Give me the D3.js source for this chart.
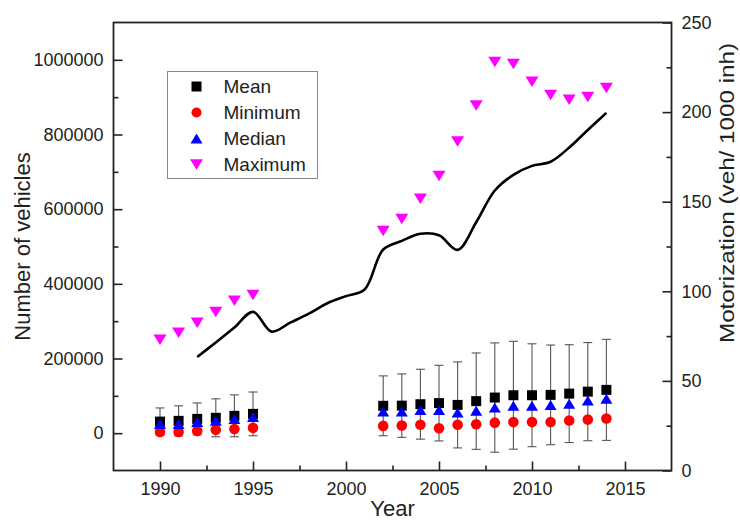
<!DOCTYPE html>
<meta charset="utf-8">
<style>
body { margin: 0; background: #fff; }
svg text { font-family: "Liberation Sans", Arial, sans-serif; fill: #222; }
.axis .domain { display: none; }
.axis line { stroke: #222; stroke-width: 1.6px; }
.axis text { font-size: 18px; }
</style>
<svg width="740" height="520" id="chart"></svg>
<script src="https://d3js.org/d3.v7.min.js"></script>
<script>
// motorization statistics (veh / 1000 inh), right axis
var statYears  = [1990, 1991, 1992, 1993, 1994, 1995,
                  2002, 2003, 2004, 2005, 2006, 2007, 2008, 2009, 2010, 2011, 2012, 2013, 2014];
var meanVals   = [27.3, 27.7, 28.8, 29.4, 30.5, 31.6,
                  36.1, 36.2, 37.0, 37.6, 36.6, 38.7, 40.7, 42.0, 42.0, 42.2, 42.9, 44.0, 45.0];
var sdVals     = [7.6, 8.4, 8.9, 10.6, 11.7, 12.2,
                  16.7, 17.7, 19.5, 21.1, 24.0, 26.9, 30.5, 30.1, 28.7, 27.8, 27.3, 27.4, 28.2];
var minVals    = [21.5, 21.5, 22.1, 22.7, 23.2, 23.8,
                  24.9, 25.1, 25.5, 23.6, 25.5, 25.8, 26.7, 27.0, 27.0, 27.1, 27.9, 28.4, 29.0];
var medianVals = [26.0, 26.0, 27.1, 27.7, 28.8, 29.9,
                  32.9, 32.9, 33.7, 33.8, 32.3, 33.4, 35.1, 36.1, 36.2, 36.6, 37.3, 39.0, 40.0];
var maxVals    = [72.9, 76.8, 82.4, 88.5, 94.7, 98.0,
                  133.7, 140.3, 151.6, 164.4, 183.6, 203.7, 227.9, 226.9, 216.9, 209.6, 206.9, 208.4, 213.4];

// number of vehicles, left axis
var lineYears = [1992, 1993, 1994, 1995, 1996, 1997, 1998, 1999, 2000, 2001, 2002, 2003,
                 2004, 2005, 2006, 2007, 2008, 2009, 2010, 2011, 2012, 2013, 2014];
var vehicles  = [204000, 243000, 283000, 325000, 272000, 296000, 320000, 348000, 367000, 385000,
                 492000, 515000, 534000, 530000, 491000, 565000, 650000, 692000, 716000, 727000,
                 765000, 812000, 858000];

var xTicks = [1990, 1995, 2000, 2005, 2010, 2015];
var leftTicks = [0, 200000, 400000, 600000, 800000, 1000000];
var rightTicks = [0, 50, 100, 150, 200, 250];
var legendLabels = ["Mean", "Minimum", "Median", "Maximum"];

var svg = d3.select("#chart"),
    margin = {top: 22.5, right: 68.5, bottom: 49.5, left: 113.5},
    width = +svg.attr("width") - margin.left - margin.right,
    height = +svg.attr("height") - margin.top - margin.bottom,
    g = svg.append("g").attr("transform", "translate(" + margin.left + "," + margin.top + ")");

var x = d3.scaleLinear().domain([1987.5, 2017.5]).range([0, width]);
var yL = d3.scaleLinear().domain([-100000, 1100000]).range([height, 0]);
var yR = d3.scaleLinear().domain([0, 250]).range([height, 0]);

// axes: major + minor ticks pointing inward
g.append("g").attr("class", "axis")
    .attr("transform", "translate(0," + height + ")")
    .call(d3.axisBottom(x).tickValues(xTicks).tickFormat(d3.format("d")).tickSize(-9).tickPadding(12));
g.append("g").attr("class", "axis")
    .attr("transform", "translate(0," + height + ")")
    .call(d3.axisBottom(x).tickValues([1992.5, 1997.5, 2002.5, 2007.5, 2012.5]).tickFormat("").tickSize(-5));

g.append("g").attr("class", "axis")
    .call(d3.axisLeft(yL).tickValues(leftTicks).tickFormat(d3.format("d")).tickSize(-9).tickPadding(10));
g.append("g").attr("class", "axis")
    .call(d3.axisLeft(yL).tickValues([100000, 300000, 500000, 700000, 900000]).tickFormat("").tickSize(-5));

g.append("g").attr("class", "axis")
    .attr("transform", "translate(" + width + ",0)")
    .call(d3.axisRight(yR).tickValues(rightTicks).tickSize(-9).tickPadding(10));
g.append("g").attr("class", "axis")
    .attr("transform", "translate(" + width + ",0)")
    .call(d3.axisRight(yR).tickValues([25, 75, 125, 175, 225]).tickFormat("").tickSize(-5));

g.append("rect")
    .attr("width", width).attr("height", height)
    .attr("fill", "none").attr("stroke", "#222").attr("stroke-width", 1.8);

// vehicles line
var lineData = lineYears.map(function(d, i) { return {year: d, v: vehicles[i]}; });
g.append("path")
    .datum(lineData)
    .attr("fill", "none")
    .attr("stroke", "#000")
    .attr("stroke-width", 2.6)
    .attr("d", d3.line()
        .x(function(d) { return x(d.year); })
        .y(function(d) { return yL(d.v); })
        .curve(d3.curveCatmullRom.alpha(0.5)));

var stats = statYears.map(function(d, i) {
  return {year: d, mean: meanVals[i], sd: sdVals[i], min: minVals[i], med: medianVals[i], max: maxVals[i]};
});

// error bars
var eb = g.append("g").attr("stroke", "#555").attr("stroke-width", 1.1);
stats.forEach(function(d) {
  var cx = x(d.year), y1 = yR(d.mean + d.sd), y2 = yR(d.mean - d.sd);
  eb.append("line").attr("x1", cx).attr("x2", cx).attr("y1", y1).attr("y2", y2);
  eb.append("line").attr("x1", cx - 4.5).attr("x2", cx + 4.5).attr("y1", y1).attr("y2", y1);
  eb.append("line").attr("x1", cx - 4.5).attr("x2", cx + 4.5).attr("y1", y2).attr("y2", y2);
});

function square(s) { return "M" + (-s/2) + "," + (-s/2) + "h" + s + "v" + s + "h" + (-s) + "Z"; }
function triUp(w, h) { return "M0," + (-h/2) + "L" + (w/2) + "," + (h/2) + "L" + (-w/2) + "," + (h/2) + "Z"; }
function triDown(w, h) { return "M0," + (h/2) + "L" + (w/2) + "," + (-h/2) + "L" + (-w/2) + "," + (-h/2) + "Z"; }

var markers = [
  {key: "mean", path: square(10), fill: "#000"},
  {key: "min", path: null, fill: "#f00"},
  {key: "med", path: triUp(12, 10), fill: "#00f"},
  {key: "max", path: triDown(13, 10.5), fill: "#f0f"}
];

markers.forEach(function(m) {
  var sel = g.append("g").selectAll("path").data(stats).enter();
  if (m.path) {
    sel.append("path")
      .attr("transform", function(d) { return "translate(" + x(d.year) + "," + yR(d[m.key]) + ")"; })
      .attr("d", m.path)
      .attr("fill", m.fill);
  } else {
    sel.append("circle")
      .attr("cx", function(d) { return x(d.year); })
      .attr("cy", function(d) { return yR(d[m.key]); })
      .attr("r", 5.3)
      .attr("fill", m.fill);
  }
});

// legend
var lg = svg.append("g").attr("transform", "translate(167.5,71.5)");
lg.append("rect").attr("width", 150).attr("height", 107)
    .attr("fill", "#fff").attr("stroke", "#888").attr("stroke-width", 1);
var item = lg.selectAll("g.item").data(legendLabels).enter().append("g")
    .attr("transform", function(d, i) { return "translate(29," + (15 + i * 26) + ")"; });
item.append("path")
    .attr("d", function(d, i) { return i === 1 ? d3.symbol(d3.symbolCircle, 80)() : markers[i].path; })
    .attr("fill", function(d, i) { return markers[i].fill; });
item.append("text")
    .attr("x", 27).attr("dy", "0.36em")
    .attr("font-size", 19)
    .text(function(d) { return d; });

// axis titles
svg.append("text")
    .attr("transform", "translate(30," + (margin.top + height / 2) + ") rotate(-90)")
    .attr("text-anchor", "middle").attr("font-size", 22)
    .text("Number of vehicles");
svg.append("text")
    .attr("x", margin.left + width / 2).attr("y", 516)
    .attr("text-anchor", "middle").attr("font-size", 22)
    .text("Year");
svg.append("text")
    .attr("transform", "translate(734,193) rotate(-90)")
    .attr("text-anchor", "middle").attr("font-size", 21)
    .attr("textLength", 300).attr("lengthAdjust", "spacingAndGlyphs")
    .text("Motorization (veh/ 1000 inh)");
</script>
